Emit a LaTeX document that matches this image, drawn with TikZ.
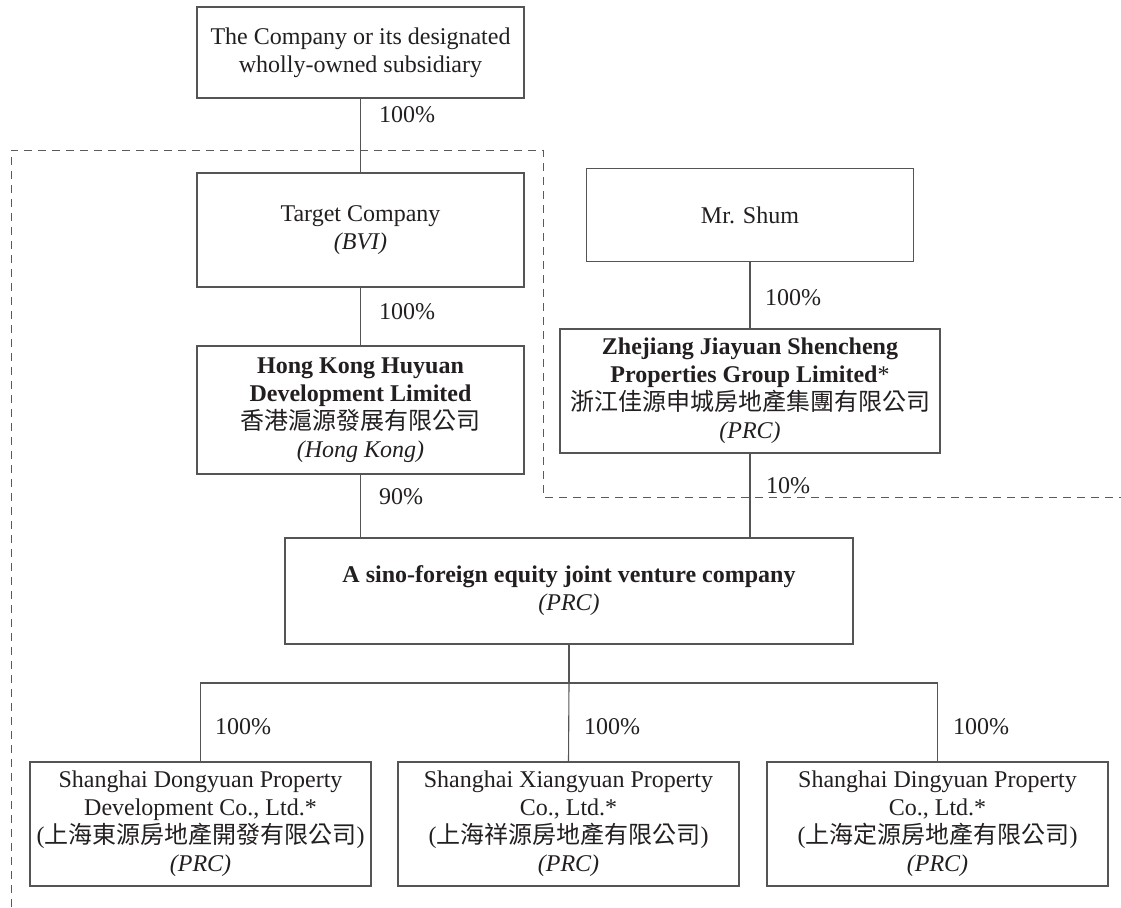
\documentclass[tikz,border=0pt]{standalone}
\usepackage{fontspec}
\setmainfont{Liberation Serif}
\newfontfamily\cjk{Noto Sans CJK TC}
\definecolor{txt}{RGB}{35,31,32}
\definecolor{linec}{RGB}{85,85,88}
\definecolor{dashc}{RGB}{90,90,92}
\begin{document}
\begin{tikzpicture}[x=1pt,y=-1pt,
  box/.style={draw=linec, line width=1.1pt, fill=white, align=center, inner sep=0pt,
    font=\fontsize{24}{28}\selectfont, text=txt},
  conn/.style={draw=linec, line width=1.1pt},
  pct/.style={anchor=base west, inner sep=0pt, font=\fontsize{24}{28}\selectfont, text=txt},
  dashline/.style={draw=dashc, line width=1pt, dash pattern=on 8pt off 6pt}]
\useasboundingbox (0,0) rectangle (1121,907);

% dashed boundary
\coordinate (d1) at (11,907);
\coordinate (d2) at (11,150);
\coordinate (d3) at (543,150);
\coordinate (d4) at (543,497);
\coordinate (d5) at (1121,497);
\draw[dashline] (d1) -- (d2) -- (d3) -- (d4) -- (d5);

% boxes
\node[box, minimum width=327pt, minimum height=91pt] (top) at (360.5,52.5)
  {The Company or its designated\\wholly-owned subsidiary};
\node[box, minimum width=327pt, minimum height=114pt] (target) at (360.5,230)
  {Target Company\\\textit{(BVI)}};
\node[box, minimum width=327pt, minimum height=128pt] (hk) at (360.5,410)
  {\textbf{Hong Kong Huyuan}\\\textbf{Development Limited}\\{\cjk 香港滬源發展有限公司}\\\textit{(Hong Kong)}};
\node[box, minimum width=327pt, minimum height=93pt] (shum) at (750,215)
  {Mr. Shum};
\node[box, minimum width=380pt, minimum height=124pt] (zj) at (750,391)
  {\textbf{Zhejiang Jiayuan Shencheng}\\\textbf{Properties Group Limited}*\\{\cjk 浙江佳源申城房地產集團有限公司}\\\textit{(PRC)}};
\node[box, minimum width=568pt, minimum height=106pt] (jv) at (569,591)
  {\textbf{A sino-foreign equity joint venture company}\\\textit{(PRC)}};
\node[box, minimum width=341pt, minimum height=124pt] (b1) at (200.5,824)
  {Shanghai Dongyuan Property\\Development Co., Ltd.*\\({\cjk 上海東源房地產開發有限公司})\\\textit{(PRC)}};
\node[box, minimum width=341pt, minimum height=124pt] (b2) at (568.5,824)
  {Shanghai Xiangyuan Property\\Co., Ltd.*\\({\cjk 上海祥源房地產有限公司})\\\textit{(PRC)}};
\node[box, minimum width=341pt, minimum height=124pt] (b3) at (937.5,824)
  {Shanghai Dingyuan Property\\Co., Ltd.*\\({\cjk 上海定源房地產有限公司})\\\textit{(PRC)}};

% connectors
\draw[conn] (top.south) -- (target.north);
\draw[conn] (target.south) -- (hk.north);
\draw[conn] (shum.south) -- (zj.north);
\draw[conn] (hk.south) -- (hk.south |- jv.north);
\draw[conn] (zj.south) -- (zj.south |- jv.north);
\coordinate (bus) at (569,683);
\draw[conn] (jv.south) -- (bus);
\draw[conn] (b1.north) -- (b1.north |- bus) -- (b3.north |- bus) -- (b3.north);
\draw[conn] (bus) -- (b2.north);

% percentages
\node[pct] (p1) at (379,122) {100\%};
\node[pct] (p2) at (379,319) {100\%};
\node[pct] (p3) at (379,504) {90\%};
\node[pct] (p4) at (765,305) {100\%};
\node[pct] (p5) at (766,493) {10\%};
\node[pct] (p6) at (215,734) {100\%};
\node[pct] (p7) at (584,734) {100\%};
\node[pct] (p8) at (953,734) {100\%};
\end{tikzpicture}
\end{document}
